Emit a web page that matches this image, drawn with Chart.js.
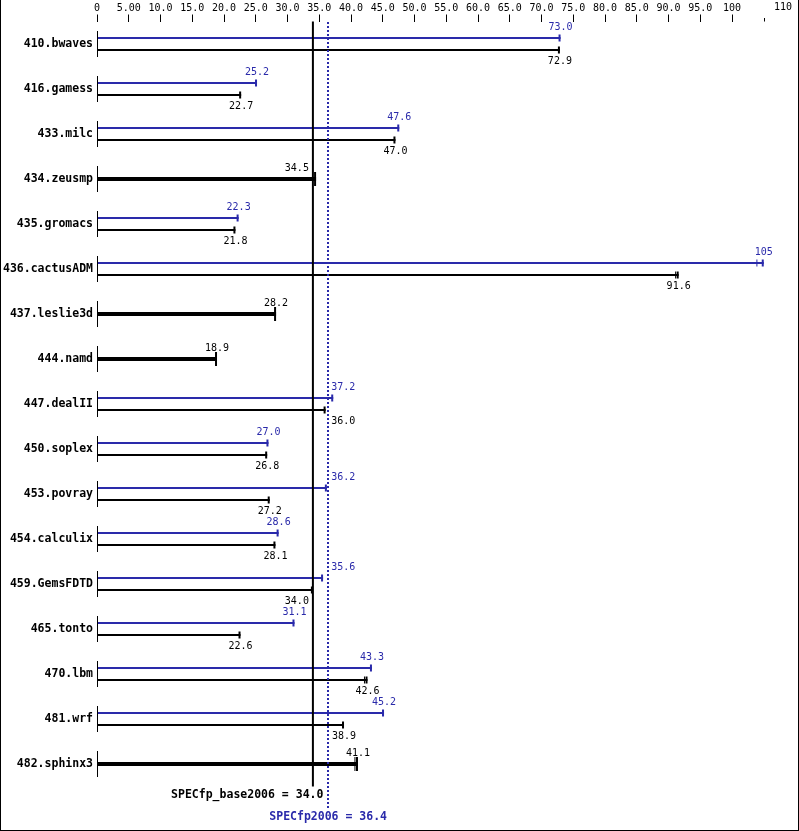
<!DOCTYPE html>
<html>
<head>
<meta charset="utf-8">
<script src="https://cdn.jsdelivr.net/npm/chart.js@4"></script>
<style>
  html, body { margin: 0; padding: 0; background: #fff; }
  #wrap { width: 799px; height: 831px; }
</style>
</head>
<body>
<div id="wrap"><canvas id="chart" width="799" height="831"></canvas></div>
<script>
const benchmarks = [
  '410.bwaves', '416.gamess', '433.milc', '434.zeusmp', '435.gromacs', '436.cactusADM',
  '437.leslie3d', '444.namd', '447.dealII', '450.soplex', '453.povray', '454.calculix',
  '459.GemsFDTD', '465.tonto', '470.lbm', '481.wrf', '482.sphinx3',
];
// peak ratio (blue), base ratio (black); rows where both are equal only have one bar
const peakValues = [73.0, 25.2, 47.6, null, 22.3, 105, null, null, 37.2, 27.0, 36.2, 28.6, 35.6, 31.1, 43.3, 45.2, null];
const baseValues = [72.9, 22.7, 47.0, null, 21.8, 91.6, null, null, 36.0, 26.8, 27.2, 28.1, 34.0, 22.6, 42.6, 38.9, null];
const sameValues = [null, null, null, 34.5, null, null, 28.2, 18.9, null, null, null, null, null, null, null, null, 41.1];
// other runs marked next to the median
const peakOtherRuns = [null, null, null, null, null, 104.0, null, null, null, null, null, null, null, null, null, null, null];
const baseOtherRuns = [null, null, null, null, null, 91.2, null, null, null, null, null, null, null, null, 42.2, null, null];
const sameOtherRuns = [null, null, null, null, null, null, null, null, null, null, null, null, null, null, null, null, 40.7];
const baseScore = 34.0;
const peakScore = 36.4;
const axisMax = 110;
const tickStep = 5;

const BLUE = '#2a2aaa';
const MONO = '"DejaVu Sans Mono", monospace';

function fmt(v) {
  if (v === 0) return '0';
  if (v >= 100) return v.toFixed(0);
  if (v < 10) return v.toFixed(2);
  return v.toFixed(1);
}

const specPlugin = {
  id: 'spec',
  afterDatasetsDraw(chart) {
    const { ctx, chartArea, scales: { x, y } } = chart;
    const x0 = x.getPixelForValue(0);
    const lb = x.getPixelForValue(baseScore);
    const lp = x.getPixelForValue(peakScore);
    ctx.save();

    // short axis segment per benchmark
    ctx.fillStyle = '#000';
    benchmarks.forEach((_, i) => {
      const cy = y.getPixelForValue(i);
      ctx.fillRect(x0, cy - 13, 1, 26);
    });

    // end caps and extra run marks
    const extras = [peakOtherRuns, baseOtherRuns, sameOtherRuns];
    chart.data.datasets.forEach((ds, di) => {
      const meta = chart.getDatasetMeta(di);
      const half = di === 2 ? 7 : 3.5;
      ctx.fillStyle = ds.backgroundColor;
      meta.data.forEach((el, i) => {
        if (ds.data[i] == null) return;
        ctx.fillRect(el.x - 2, el.y - half, 2, half * 2);
        const other = extras[di][i];
        if (other != null) {
          const ox = x.getPixelForValue(other);
          ctx.fillRect(ox - 1, el.y - half, 1, half * 2);
        }
      });
    });

    // score lines
    ctx.fillStyle = '#000';
    ctx.fillRect(lb - 1, chartArea.top, 2, chartArea.bottom - chartArea.top);
    ctx.fillStyle = BLUE;
    for (let yy = chartArea.top; yy < chartArea.bottom + 22; yy += 4) {
      ctx.fillRect(Math.round(lp) - 1, Math.round(yy), 2, 2);
    }

    // value labels (offset from the bar centre)
    ctx.font = '10px ' + MONO;
    ctx.textBaseline = 'middle';
    ctx.textAlign = 'center';
    const offsets = [-10.5, 11.5, -11];
    chart.data.datasets.forEach((ds, di) => {
      const meta = chart.getDatasetMeta(di);
      ctx.fillStyle = di === 0 ? BLUE : '#000';
      meta.data.forEach((el, i) => {
        const v = ds.data[i];
        if (v == null) return;
        const text = fmt(v);
        const w = ctx.measureText(text).width;
        let cx = el.x;
        if (cx + w / 2 > lb - 2 && cx - w / 2 < lp + 2) {
          const leftC = lb - 4 - w / 2;
          const rightC = lp + 3 + w / 2;
          cx = Math.abs(leftC - el.x) < Math.abs(rightC - el.x) ? leftC : rightC;
        }
        ctx.fillText(text, cx, el.y + offsets[di]);
      });
    });

    // last tick label and short minor tick
    ctx.fillStyle = '#000';
    ctx.textAlign = 'right';
    ctx.fillText(fmt(axisMax), x.getPixelForValue(axisMax) - 3.5, 7.5);
    ctx.fillRect(Math.round(x.getPixelForValue(axisMax - tickStep)), chartArea.top - 3.5, 1, 3.5);

    // score captions
    ctx.font = 'bold 11.5px ' + MONO;
    ctx.textAlign = 'right';
    ctx.fillText('SPECfp_base2006 = ' + fmt(baseScore), lb + 10.5, chartArea.bottom + 9);
    ctx.fillStyle = BLUE;
    ctx.textAlign = 'center';
    ctx.fillText('SPECfp2006 = ' + fmt(peakScore), lp, chartArea.bottom + 31);
    ctx.restore();
  },
  afterDraw(chart) {
    const { ctx, width, height } = chart;
    ctx.save();
    ctx.fillStyle = '#000';
    ctx.fillRect(0, 0, 1, height);
    ctx.fillRect(width - 1, 0, 1, height);
    ctx.fillRect(0, height - 1, width, 1);
    ctx.restore();
  },
};

const barOpts = {
  categoryPercentage: 24 / 45,
  barPercentage: 1 / 6,
  skipNull: true,
  borderWidth: 0,
};

new Chart(document.getElementById('chart'), {
  type: 'bar',
  data: {
    labels: benchmarks,
    datasets: [
      { label: 'peak', data: peakValues, backgroundColor: BLUE, ...barOpts },
      { label: 'base', data: baseValues, backgroundColor: '#000', ...barOpts },
      { label: 'base = peak', data: sameValues, backgroundColor: '#000', ...barOpts },
    ],
  },
  options: {
    indexAxis: 'y',
    responsive: false,
    animation: false,
    layout: { padding: { left: 0, right: 3.5, top: 0, bottom: 44.5 } },
    plugins: {
      legend: { display: false },
      tooltip: { enabled: false },
    },
    scales: {
      x: {
        type: 'linear',
        position: 'top',
        min: 0,
        max: axisMax,
        ticks: {
          stepSize: tickStep,
          autoSkip: false,
          maxRotation: 0,
          padding: 0,
          color: '#000',
          font: { family: MONO, size: 10 },
          callback: v => (v >= axisMax - tickStep ? '' : fmt(v)),
        },
        grid: {
          drawOnChartArea: false,
          drawTicks: true,
          tickLength: 7,
          tickWidth: 1,
          tickColor: c => (c.tick && c.tick.value >= axisMax - tickStep ? 'rgba(0,0,0,0)' : '#000'),
        },
        border: { display: false },
        afterFit(s) { s.height = 21.5; s.paddingLeft = 0; s.paddingRight = 0; },
      },
      y: {
        type: 'category',
        ticks: {
          autoSkip: false,
          padding: 4,
          color: '#000',
          font: { family: MONO, size: 11.5, weight: 'bold' },
        },
        grid: { display: false, drawTicks: false },
        border: { display: false },
        afterFit(s) { s.width = 97; s.paddingTop = 0; s.paddingBottom = 0; },
      },
    },
  },
  plugins: [specPlugin],
});
</script>
</body>
</html>
